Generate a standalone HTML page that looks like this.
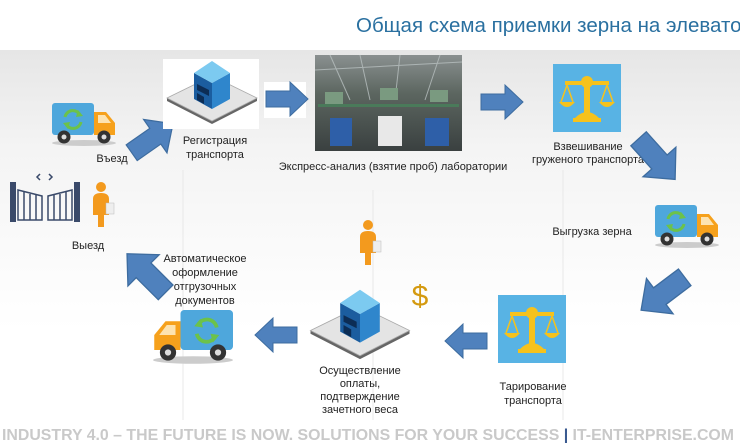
<!DOCTYPE html>
<html><head><meta charset="utf-8"><style>
html,body{margin:0;padding:0;background:#fff;}
svg{display:block;}
text{font-family:"Liberation Sans",sans-serif;}
</style></head><body>
<svg width="740" height="443" viewBox="0 0 740 443" xmlns="http://www.w3.org/2000/svg">
<defs>
<linearGradient id="bg" x1="0" y1="0" x2="0" y2="1">
<stop offset="0" stop-color="#e6e6e6"/><stop offset="0.35" stop-color="#f4f4f4"/><stop offset="1" stop-color="#ffffff"/>
</linearGradient>
<linearGradient id="photo" x1="0" y1="0" x2="0" y2="1">
<stop offset="0" stop-color="#8a9090"/><stop offset="0.4" stop-color="#5c6660"/><stop offset="1" stop-color="#3a4040"/>
</linearGradient>
<g id="arr"><polygon points="0,9 24,9 24,0 42,17 24,34 24,25 0,25" fill="#4f81bd" stroke="#3d6c9f" stroke-width="1"/></g>
<g id="truck">
<ellipse cx="32" cy="40" rx="32" ry="3" fill="#ccc"/>
<rect x="0" y="0" width="42" height="32" rx="3" fill="#4ea7dc"/>
<path d="M42 9 L54 9 L63 20 L63 32 L42 32 Z" fill="#f6a11c"/>
<path d="M46 12 L53 12 L59 20 L46 20 Z" fill="#fde3b0"/>
<circle cx="12" cy="34" r="6.5" fill="#333"/><circle cx="12" cy="34" r="2.5" fill="#ddd"/>
<circle cx="52" cy="34" r="6.5" fill="#333"/><circle cx="52" cy="34" r="2.5" fill="#ddd"/>
<path d="M13 14 A8 8 0 0 1 28 12" fill="none" stroke="#6cc24a" stroke-width="3"/>
<path d="M29 19 A8 8 0 0 1 14 21" fill="none" stroke="#6cc24a" stroke-width="3"/>
<polygon points="26,7 31,13 24,14" fill="#6cc24a"/><polygon points="16,26 11,20 18,19" fill="#6cc24a"/>
</g>
<g id="bld">
<polygon points="-45,8 0,31 45,8 45,5 0,28 -45,5" fill="#666"/>
<polygon points="-45,5 0,-17 45,5 0,28" fill="#e4e4e4" stroke="#aaa" stroke-width="0.8"/>
<polygon points="-18,-20 0,-10 0,16 -18,6" fill="#1b5d9f"/>
<polygon points="0,-10 18,-20 18,6 0,16" fill="#2f86cc"/>
<polygon points="-18,-20 0,-32 18,-20 0,-10" fill="#7ccaf0"/>
<polygon points="-15,-9 -3,-3 -3,3 -15,-3" fill="#0c2d55"/>
<polygon points="-15,0 -8,4 -8,11 -15,7" fill="#0c2d55"/>
</g>
<g id="scale">
<rect x="0" y="0" width="68" height="68" fill="#58b3e4"/>
<rect x="12" y="17" width="44" height="4" fill="#f6c21c"/>
<circle cx="34" cy="18" r="6" fill="#f6c21c"/>
<rect x="31" y="18" width="6" height="34" fill="#f6c21c"/>
<path d="M22 54 Q34 42 46 54 Z" fill="#f6c21c"/><rect x="20" y="54" width="28" height="4" fill="#f6c21c"/>
<path d="M14 21 L8 38 M14 21 L20 38 M54 21 L48 38 M54 21 L60 38" stroke="#f6c21c" stroke-width="1.5"/>
<path d="M6 38 L22 38 Q14 48 6 38 Z" fill="#f6c21c"/>
<path d="M46 38 L62 38 Q54 48 46 38 Z" fill="#f6c21c"/>
</g>
<g id="person">
<circle cx="0" cy="0" r="5" fill="#f39a1e"/>
<path d="M-8 28 L-8 12 Q-8 6 0 6 Q8 6 8 12 L8 28 L3 28 L3 40 L-3 40 L-3 28 Z" fill="#f39a1e"/>
<rect x="5" y="16" width="8" height="11" fill="#eee" stroke="#bbb" stroke-width="0.5"/>
</g>
</defs>
<rect x="0" y="0" width="740" height="443" fill="#fff"/>
<rect x="0" y="50" width="740" height="280" fill="url(#bg)"/>
<text x="356" y="32" font-size="20.5" fill="#2a70a0">Общая схема приемки зерна на элеваторе</text>
<g stroke="#e8e8e8" stroke-width="1">
<line x1="183" y1="170" x2="183" y2="420"/><line x1="373" y1="190" x2="373" y2="420"/><line x1="563" y1="170" x2="563" y2="420"/>
</g>
<!-- top row -->
<use href="#truck" transform="translate(52,103)"/>
<text x="112" y="162" font-size="11" text-anchor="middle" fill="#222">Въезд</text>
<use href="#arr" transform="translate(120,136) rotate(-35) scale(1.2)"/>
<rect x="163" y="59" width="96" height="70" fill="#fff"/>
<use href="#bld" transform="translate(212,93)"/>
<text x="215" y="144" font-size="11" text-anchor="middle" fill="#222">Регистрация</text>
<text x="215" y="158" font-size="11" text-anchor="middle" fill="#222">транспорта</text>
<rect x="264" y="82" width="42" height="36" fill="#fff"/>
<use href="#arr" transform="translate(266,82)"/>
<rect x="315" y="55" width="147" height="96" fill="url(#photo)"/>
<g stroke="#b8c0c0" stroke-width="1" opacity="0.8">
<line x1="315" y1="70" x2="462" y2="62"/><line x1="330" y1="55" x2="350" y2="100"/><line x1="360" y1="55" x2="370" y2="100"/><line x1="400" y1="55" x2="395" y2="100"/><line x1="440" y1="55" x2="425" y2="100"/>
</g>
<rect x="325" y="92" width="18" height="12" fill="#7a9a80"/><rect x="380" y="88" width="18" height="12" fill="#7a9a80"/><rect x="430" y="90" width="18" height="12" fill="#7a9a80"/>
<rect x="318" y="104" width="141" height="3" fill="#4a7a5a"/>
<rect x="330" y="118" width="22" height="28" fill="#2e5fa8"/><rect x="378" y="116" width="24" height="30" fill="#e8e8e8"/><rect x="425" y="118" width="24" height="28" fill="#2e5fa8"/>
<text x="393" y="170" font-size="11" text-anchor="middle" fill="#222">Экспресс-анализ (взятие проб) лаборатории</text>
<use href="#arr" transform="translate(481,85)"/>
<use href="#scale" transform="translate(553,64)"/>
<text x="588" y="150" font-size="11" text-anchor="middle" fill="#222">Взвешивание</text>
<text x="588" y="163" font-size="11" text-anchor="middle" fill="#222">груженого  транспорта</text>
<use href="#arr" transform="translate(655,124) rotate(48) scale(1.3)"/>
<!-- right -->
<use href="#truck" transform="translate(655,205)"/>
<text x="592" y="235" font-size="11" text-anchor="middle" fill="#222">Выгрузка зерна</text>
<use href="#arr" transform="translate(698,295) rotate(143) scale(1.3)"/>
<!-- bottom row -->
<use href="#scale" transform="translate(498,295)"/>
<text x="533" y="390" font-size="11" text-anchor="middle" fill="#222">Тарирование</text>
<text x="533" y="404" font-size="11" text-anchor="middle" fill="#222">транспорта</text>
<use href="#arr" transform="translate(487,358) rotate(180)"/>
<use href="#bld" transform="translate(360,325) scale(1.1)"/>
<text x="360" y="374" font-size="11" text-anchor="middle" fill="#222">Осуществление</text>
<text x="360" y="387" font-size="11" text-anchor="middle" fill="#222">оплаты,</text>
<text x="360" y="400" font-size="11" text-anchor="middle" fill="#222">подтверждение</text>
<text x="360" y="413" font-size="11" text-anchor="middle" fill="#222">зачетного веса</text>
<use href="#person" transform="translate(368,225)"/>
<text x="420" y="306" font-size="30" font-family="Liberation Serif,serif" text-anchor="middle" fill="#d49a10">$</text>
<use href="#arr" transform="translate(297,352) rotate(180)"/>
<use href="#truck" transform="translate(233,310) scale(-1.25,1.25)"/>
<text x="205" y="262" font-size="11" text-anchor="middle" fill="#222">Автоматическое</text>
<text x="205" y="276" font-size="11" text-anchor="middle" fill="#222">оформление</text>
<text x="205" y="290" font-size="11" text-anchor="middle" fill="#222">отгрузочных</text>
<text x="205" y="304" font-size="11" text-anchor="middle" fill="#222">документов</text>
<use href="#arr" transform="translate(150,308) rotate(-135) scale(1.3)"/>
<!-- exit -->
<g fill="#3a4a6a">
<rect x="10" y="182" width="6" height="40"/><rect x="74" y="182" width="6" height="40"/>
</g>
<g stroke="#3a4a6a" stroke-width="1.5" fill="none">
<path d="M18 190 L42 196 L42 220 L18 220 Z M24 192 V220 M30 194 V220 M36 195 V220"/>
<path d="M72 190 L48 196 L48 220 L72 220 Z M66 192 V220 M60 194 V220 M54 195 V220"/>
<path d="M40 180 L37 177 L40 174 M49 180 L52 177 L49 174"/>
</g>
<use href="#person" transform="translate(101,187)"/>
<text x="88" y="249" font-size="11" text-anchor="middle" fill="#222">Выезд</text>
<!-- footer -->
<text x="2" y="440" font-size="16" font-weight="bold" fill="#c9c9c9" textLength="732" lengthAdjust="spacingAndGlyphs" font-family="Liberation Sans Narrow,Liberation Sans,sans-serif">INDUSTRY 4.0 – THE FUTURE IS NOW. SOLUTIONS FOR YOUR SUCCESS <tspan fill="#3a5a90">|</tspan> IT-ENTERPRISE.COM</text>
</svg>
</body></html>
